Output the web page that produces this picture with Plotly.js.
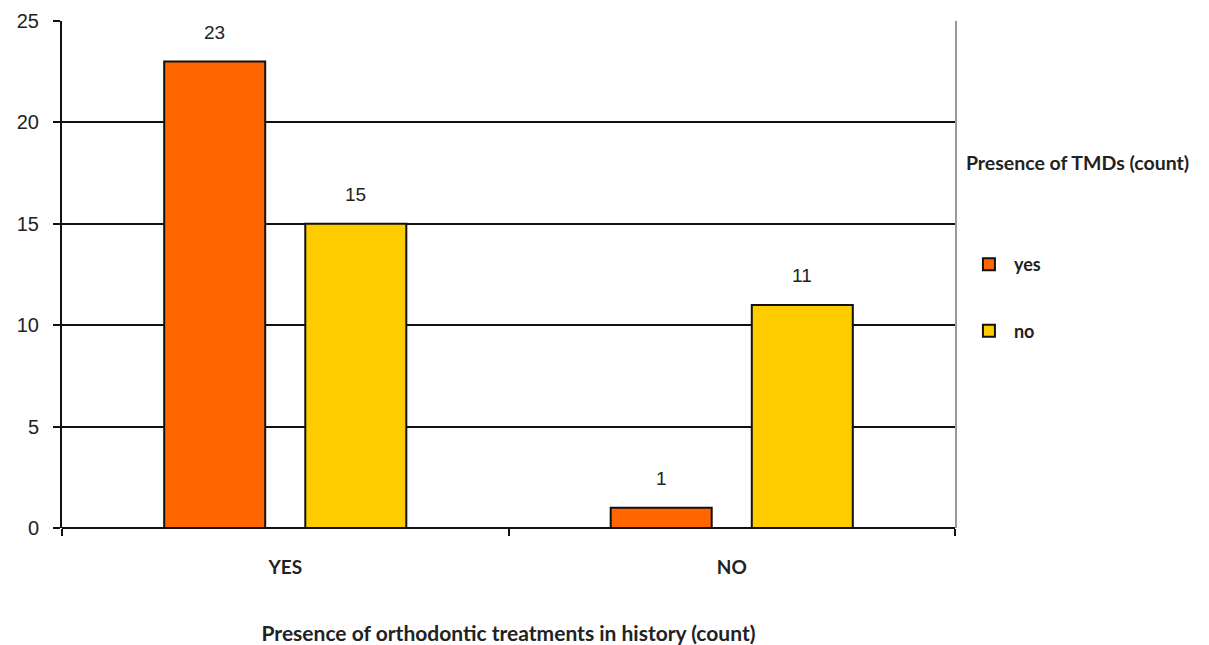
<!DOCTYPE html>
<html>
<head>
<meta charset="utf-8">
<script src="https://cdn.plot.ly/plotly-3.0.1.min.js"></script>
<style>html,body{margin:0;padding:0;background:#fff;}#chart{width:1209px;height:645px;}</style>
</head>
<body>
<div id="chart"></div>
<script>
const categories = ["YES", "NO"];
const seriesNames = ["yes", "no"];
const tmdYes = [23, 1];
const tmdNo = [15, 11];
const yTicks = [0, 5, 10, 15, 20, 25];
const gridVals = [5, 10, 15, 20];
const colors = ["#FF6600", "#FFCC00"];

const boldFont = "Lato, Open Sans, DejaVu Sans, sans-serif";
const allSeries = [tmdYes, tmdNo];
const traces = allSeries.map((vals, i) => ({
  type: "bar",
  name: seriesNames[i],
  x: categories,
  y: vals,
  legendgroup: "g" + i,
  marker: {color: colors[i], line: {color: "#111", width: 2}},
  hoverinfo: "none"
}));
// dummy traces for the overlay axes (right border / top line, and black gridlines)
traces.push({type: "scatter", x: categories, y: [null, null], yaxis: "y2", showlegend: false, hoverinfo: "none"});
traces.push({type: "scatter", x: categories, y: [null, null], yaxis: "y3", showlegend: false, hoverinfo: "none"});

const annotations = [];
allSeries.forEach((vals, i) => {
  vals.forEach((v, j) => {
    annotations.push({
      x: categories[j], y: v, xref: "x", yref: "y",
      text: String(v), showarrow: false,
      xshift: (i === 0 ? -1 : 1) * 70.5,
      yshift: 29,
      font: {family: "Liberation Sans, Arial, sans-serif", size: 19, color: "#222"}
    });
  });
});

const layout = {
  width: 1209, height: 645,
  margin: {l: 62, r: 254, t: 21, b: 117},
  paper_bgcolor: "#fff", plot_bgcolor: "#fff",
  barmode: "group",
  bargap: 0.368,
  bargroupgap: 0.284,
  showlegend: true,
  legend: {
    x: 1.01, xanchor: "left", y: 0.756, yanchor: "top",
    title: {text: "<b>Presence of TMDs (count)</b><br> <br> <br> ", font: {family: boldFont, size: 19.5, color: "#222"}},
    font: {family: boldFont, size: 18, color: "#222", weight: "bold"},
    tracegroupgap: 40,
    itemwidth: 40,
    borderwidth: 0,
    bgcolor: "rgba(0,0,0,0)"
  },
  xaxis: {
    type: "category",
    showline: false,
    ticks: "outside", tickson: "boundaries", ticklen: 7, tickwidth: 2, tickcolor: "#111",
    showgrid: false,
    tickfont: {family: boldFont, size: 19, color: "#222", weight: "bold"},
    ticklabelstandoff: 26,
    title: {text: "<b>Presence of orthodontic treatments in history (count)</b>", font: {family: boldFont, size: 21, color: "#222"}, standoff: 54}
  },
  yaxis: {
    range: [0, 25],
    tickvals: yTicks,
    ticks: "outside", ticklen: 7, tickwidth: 2, tickcolor: "#111",
    showline: true, linecolor: "#111", linewidth: 2,
    showgrid: false,
    zeroline: true, zerolinecolor: "#111", zerolinewidth: 2,
    tickfont: {family: "Liberation Sans, Arial, sans-serif", size: 20, color: "#222"},
    ticklabelstandoff: 10
  },
  yaxis2: {
    overlaying: "y", side: "right", range: [0, 25],
    showline: true, linecolor: "#999", linewidth: 2,
    tickvals: [25], showgrid: true, gridcolor: "#ccc", gridwidth: 2,
    showticklabels: false, ticks: "", zeroline: false
  },
  yaxis3: {
    overlaying: "y", side: "left", range: [0, 25],
    tickvals: gridVals, showgrid: true, gridcolor: "#111", gridwidth: 2,
    showticklabels: false, ticks: "", zeroline: false, showline: false
  },
  annotations: annotations
};

Plotly.newPlot("chart", traces, layout, {displayModeBar: false, staticPlot: true});
</script>
</body>
</html>
